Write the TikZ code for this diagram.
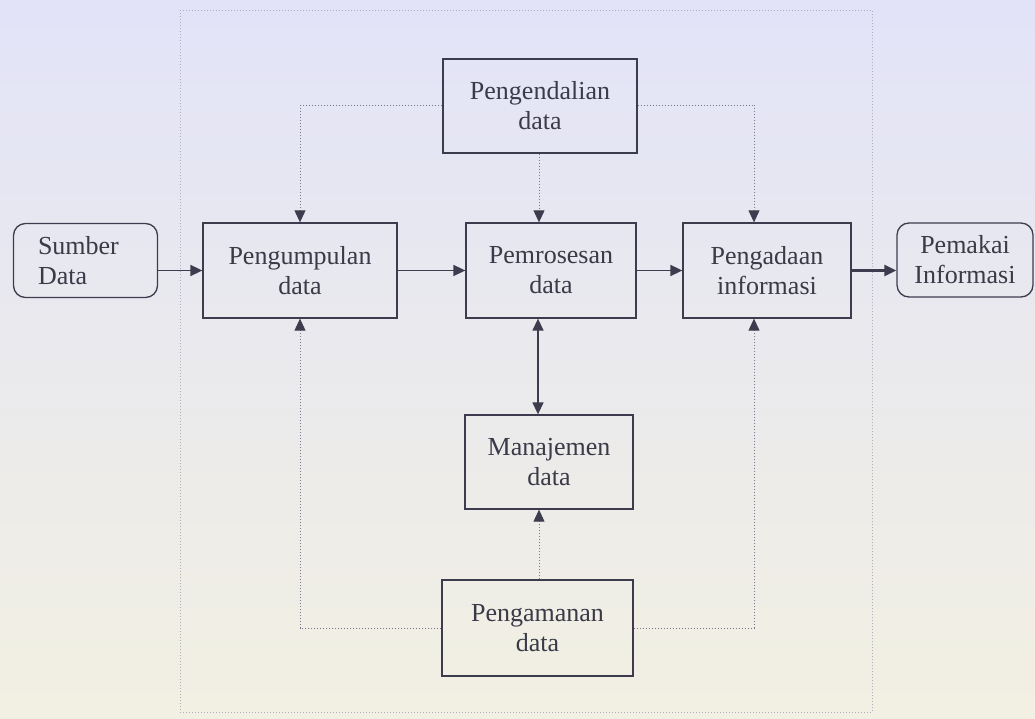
\documentclass[tikz,border=0pt]{standalone}
\usepackage{fontspec}
\setmainfont{Liberation Serif}
\usetikzlibrary{arrows.meta}
\definecolor{ink}{RGB}{58,58,72}
\definecolor{lineink}{RGB}{60,60,78}
\definecolor{dotink}{RGB}{120,120,140}
\definecolor{bgtop}{RGB}{226,227,248}
\definecolor{bgbot}{RGB}{242,240,226}
\tikzset{
  x=1pt, y=-1pt,
  every node/.style={font=\fontsize{26}{30}\selectfont, text=ink},
  procbox/.style={draw=lineink, line width=1.3pt, inner sep=0pt, align=center},
  endbox/.style={draw=lineink, line width=1.3pt, rounded corners=12pt, inner sep=0pt},
  solidarrow/.style={draw=lineink, line width=1.6pt, -{Triangle[length=12pt,width=11pt]}},
  dotline/.style={draw=dotink, line width=0.9pt, dash pattern=on 1.5pt off 1.5pt},
  dotarrow/.style={dotline, -{Triangle[length=12pt,width=11pt,color=lineink,fill=lineink]}},
  frame/.style={draw=dotink!60, line width=0.7pt, dash pattern=on 1pt off 2pt}
}
\begin{document}
\begin{tikzpicture}
\shade[top color=bgtop, bottom color=bgbot] (0,0) rectangle (1035,719);
\useasboundingbox (0,0) rectangle (1035,719);
\draw[frame] (180,10) rectangle (872,712);

\node[endbox, minimum width=144pt, minimum height=74pt, text width=95pt, align=left] (sumber) at (85.5,260.5) {Sumber\\Data};
\node[procbox, minimum width=194pt, minimum height=95pt] (pgum) at (300,270.5) {Pengumpulan\\data};
\node[procbox, minimum width=170pt, minimum height=95pt] (pros) at (551,270.5) {Pemrosesan\\data};
\node[procbox, minimum width=168pt, minimum height=95pt] (pgad) at (767,270.5) {Pengadaan\\informasi};
\node[endbox, minimum width=136pt, minimum height=74pt, align=center] (pemakai) at (965,260) {Pemakai\\Informasi};
\node[procbox, minimum width=194pt, minimum height=94pt] (pgend) at (540,106) {Pengendalian\\data};
\node[procbox, minimum width=168pt, minimum height=94pt] (manaj) at (549,462) {Manajemen\\data};
\node[procbox, minimum width=191pt, minimum height=96pt] (pgaman) at (537.5,628) {Pengamanan\\data};

\coordinate (tl) at (300,105);
\coordinate (tr) at (754,105);
\coordinate (bl) at (300,628);
\coordinate (br) at (754,628);
\coordinate (cx) at (539,0);
\coordinate (mx) at (538,0);

% main flow
\draw[solidarrow] (sumber.east |- pgum.west) -- (pgum.west);
\draw[solidarrow] (pgum.east) -- (pros.west);
\draw[solidarrow] (pros.east) -- (pgad.west);
\draw[solidarrow, line width=2.4pt] (pgad.east) -- (pemakai.west |- pgad.east);
\draw[draw=lineink, line width=1.4pt, {Triangle[length=12pt,width=11pt]}-{Triangle[length=12pt,width=11pt]}] (pros.south -| mx) -- (manaj.north -| mx);

% control loops
\draw[dotline] (pgend.west |- tl) -- (tl);
\draw[dotarrow] (tl) -- (pgum.north -| tl);
\draw[dotline] (pgend.east |- tr) -- (tr);
\draw[dotarrow] (tr) -- (pgad.north -| tr);
\draw[dotarrow] (pgend.south -| cx) -- (pros.north -| cx);

% security loops
\draw[dotline] (pgaman.west |- bl) -- (bl);
\draw[dotarrow] (bl) -- (pgum.south -| bl);
\draw[dotline] (pgaman.east |- br) -- (br);
\draw[dotarrow] (br) -- (pgad.south -| br);
\draw[dotarrow] (pgaman.north -| cx) -- (manaj.south -| cx);
\end{tikzpicture}
\end{document}
